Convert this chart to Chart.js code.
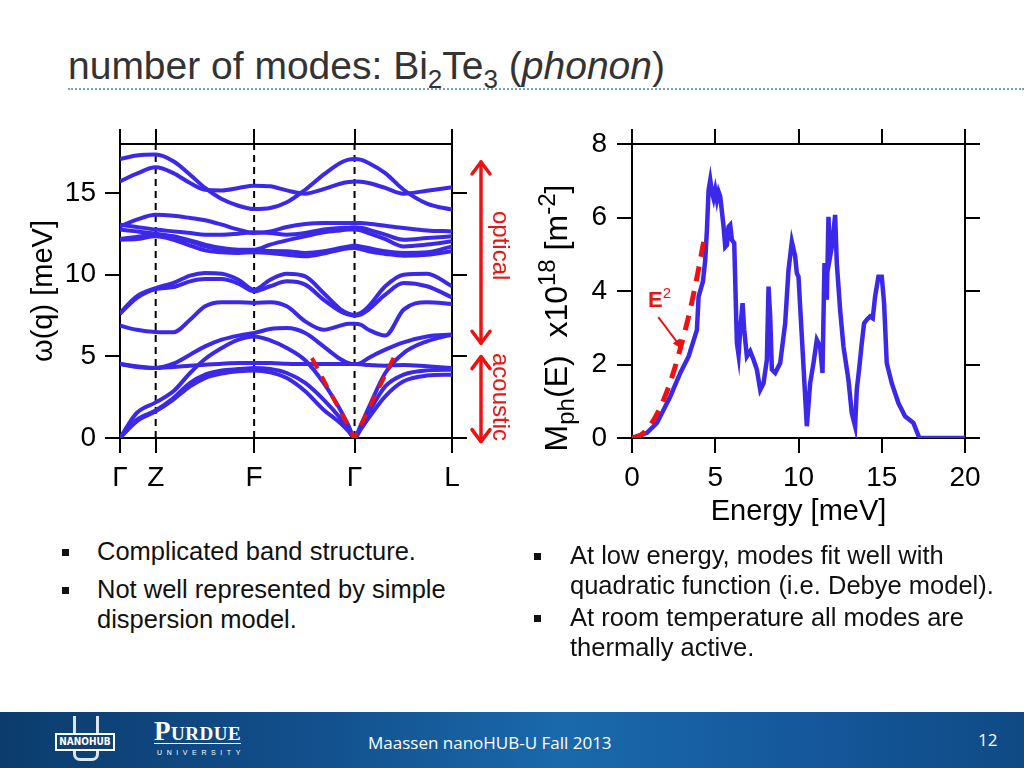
<!DOCTYPE html>
<html>
<head>
<meta charset="utf-8">
<script src="https://cdn.jsdelivr.net/npm/chart.js@4.4.0/dist/chart.umd.min.js"></script>
<style>
body{margin:0;width:1024px;height:768px;overflow:hidden;background:#fff;position:relative;font-family:"Liberation Sans",Arial,sans-serif}
#title{position:absolute;left:68px;top:46px;font-size:39px;line-height:1;color:#333;white-space:nowrap}
#title sub{font-size:26px;line-height:0;vertical-align:-9px}
#rule{position:absolute;left:68px;right:0;top:88px;border-top:2px dotted #6fa4bb}
canvas{position:absolute}
#left{left:0;top:100px}
#right{left:520px;top:100px}
.note{position:absolute;color:#e51616;font-size:24px;line-height:1;writing-mode:vertical-rl;white-space:nowrap}
#mlabel{position:absolute;left:556px;top:318px;transform:translate(-50%,-50%) rotate(-90deg);font-size:32px;white-space:nowrap;line-height:1}
#mlabel sub,#mlabel sup{font-size:24px;line-height:0}
#e2{position:absolute;left:648px;top:289px;color:#e51616;font-size:22px;font-weight:bold;line-height:22px}
#e2 sup{font-size:15px;font-weight:normal;vertical-align:9px;line-height:0}
.bul{position:absolute;font-size:25.5px;line-height:30px;color:#111;white-space:nowrap}
.sq{position:absolute;width:7px;height:7px;background:#111}
#foot{position:absolute;left:0;top:712px;width:1024px;height:56px;background:linear-gradient(90deg,#0b3c6d 0%,#124f8c 30%,#1a69ab 55%,#14579a 80%,#0f4a85 100%)}
#foot .t{position:absolute;color:#fff;font-family:"Open Sans",sans-serif;font-size:17px;white-space:nowrap}
</style>
</head>
<body>
<div id="title">number of modes: Bi<sub>2</sub>Te<sub>3</sub> (<i>phonon</i>)</div>
<div id="rule"></div>

<canvas id="left" width="530" height="420"></canvas>
<canvas id="right" width="504" height="440"></canvas>

<div class="note" style="left:489px;top:211px">optical</div>
<div class="note" style="left:489px;top:353px">acoustic</div>
<div id="mlabel">M<sub>ph</sub>(E)&nbsp;&nbsp;x10<sup>18</sup> [m<sup>-2</sup>]</div>
<div id="e2">E<sup>2</sup></div>

<div class="sq" style="left:62px;top:549px"></div>
<div class="bul" style="left:97px;top:536px">Complicated band structure.</div>
<div class="sq" style="left:62px;top:587px"></div>
<div class="bul" style="left:97px;top:574px">Not well represented by simple<br>dispersion model.</div>
<div class="sq" style="left:534px;top:553px"></div>
<div class="bul" style="left:570px;top:540px">At low energy, modes fit well with<br>quadratic function (i.e. Debye model).</div>
<div class="sq" style="left:534px;top:615px"></div>
<div class="bul" style="left:570px;top:602px">At room temperature all modes are<br>thermally active.</div>

<div id="foot">
  <div style="position:absolute;left:73px;top:4px;width:20px;height:42px;border:3px solid #dce6ef;border-top:none;border-radius:0 0 7px 7px"></div>
  <div style="position:absolute;left:55px;top:21px;width:56px;height:14px;border:2px solid #fff;background:#123f6e;color:#fff;font:bold 10px 'DejaVu Sans Condensed','DejaVu Sans',sans-serif;line-height:14px;text-align:center">NANOHUB</div>
  <div style="position:absolute;left:154px;top:7px;color:#fff;font-family:'Liberation Serif',serif;font-size:27px;font-weight:bold;font-variant:small-caps;letter-spacing:0.5px;border-bottom:1px solid #fff;line-height:24px">Purdue</div>
  <div style="position:absolute;left:157px;top:37px;color:#fff;font-size:7px;letter-spacing:4.6px">UNIVERSITY</div>
  <div class="t" style="left:368px;top:19px">Maassen nanoHUB-U Fall 2013</div>
  <div class="t" style="left:978px;top:16px">12</div>
</div>

<script>
// --- band structure (left panel) ---
const kPos = [0, 0.0503, 0.1075, 0.1608, 0.2111, 0.2563, 0.3065, 0.3568, 0.404, 0.4523, 0.5025,
  0.5578, 0.6131, 0.6633, 0.6884, 0.7065, 0.7246, 0.7487, 0.799, 0.8543, 0.9246, 1];
const kTicks = [0, 0.1075, 0.404, 0.7065, 1];
const kLabels = ['Γ', 'Z', 'F', 'Γ', 'L'];
const omegaTicks = [0, 5, 10, 15];

// acoustic branches
const band1 = [0, 1.02, 1.63, 2.35, 3.16, 3.67, 3.94, 4.08, 4.14, 4.02, 3.67, 2.86, 1.73, 0.92, 0.41, 0, 0.51, 1.22, 2.55, 3.47, 3.82, 3.88];
const band2 = [0, 1.12, 1.69, 2.45, 3.37, 3.88, 4.14, 4.22, 4.29, 4.22, 3.98, 3.37, 2.35, 1.22, 0.51, 0, 0.61, 1.53, 3.16, 3.88, 4.14, 4.18];
const band3 = [0, 1.53, 2.18, 2.86, 3.98, 4.84, 5.51, 6.02, 6.22, 5.98, 5.51, 4.76, 3.37, 1.73, 0.76, 0, 0.76, 1.84, 3.98, 5.2, 5.92, 6.33];
// optical branches
const band4 = [4.53, 4.35, 4.29, 4.55, 5.1, 5.61, 6.02, 6.27, 6.43, 6.67, 6.73, 6.43, 5.61, 4.84, 4.59, 4.53, 4.59, 4.9, 5.41, 5.86, 6.22, 6.33];
const band5 = [4.53, 4.39, 4.29, 4.35, 4.43, 4.49, 4.55, 4.59, 4.59, 4.59, 4.55, 4.53, 4.53, 4.53, 4.53, 4.53, 4.51, 4.47, 4.43, 4.47, 4.39, 4.29];
const band6 = [6.88, 6.63, 6.49, 6.47, 7.24, 8.06, 8.31, 8.31, 8.27, 8.31, 8.06, 7.14, 6.63, 6.88, 7.0, 7.0, 6.94, 6.63, 6.27, 7.86, 8.31, 8.2];
const band7 = [7.61, 8.57, 9.12, 9.24, 9.59, 9.73, 9.73, 9.45, 8.98, 9.29, 9.59, 9.39, 8.47, 7.76, 7.55, 7.49, 7.55, 7.86, 8.78, 9.49, 9.29, 8.61];
const band8 = [7.65, 8.67, 9.18, 9.49, 9.94, 10.1, 10.06, 9.69, 9.08, 9.69, 10.06, 9.9, 8.88, 7.9, 7.61, 7.55, 7.65, 8.06, 9.29, 10.0, 10.06, 9.29];
const band9 = [12.14, 12.18, 12.35, 12.14, 11.78, 11.49, 11.37, 11.33, 11.37, 11.33, 11.22, 11.12, 11.29, 11.53, 11.61, 11.63, 11.57, 11.43, 11.27, 11.16, 11.22, 11.43];
const band10 = [12.18, 12.31, 12.45, 12.31, 12.04, 11.73, 11.53, 11.45, 11.45, 11.45, 11.43, 11.33, 11.43, 11.63, 11.73, 11.78, 11.73, 11.63, 11.43, 11.33, 11.37, 11.73];
const band11 = [12.76, 12.65, 12.51, 12.35, 12.1, 11.84, 11.63, 11.53, 11.53, 11.84, 12.1, 12.35, 12.59, 12.71, 12.76, 12.76, 12.71, 12.55, 12.18, 11.73, 11.84, 12.04];
const band12 = [13.06, 12.92, 12.76, 12.65, 12.55, 12.45, 12.45, 12.51, 12.59, 12.55, 12.45, 12.55, 12.76, 12.86, 12.88, 12.9, 12.88, 12.76, 12.45, 12.14, 12.24, 12.35];
const band13 = [12.96, 13.37, 13.67, 13.61, 13.47, 13.33, 13.06, 12.76, 12.55, 12.65, 12.92, 13.1, 13.16, 13.16, 13.16, 13.16, 13.16, 13.12, 13.0, 12.86, 12.71, 12.65];
const band14 = [15.71, 16.18, 16.57, 16.22, 15.61, 15.2, 15.16, 15.31, 15.45, 15.41, 15.16, 14.96, 15.24, 15.57, 15.67, 15.71, 15.69, 15.61, 15.31, 14.96, 15.14, 15.35];
const band15 = [17.08, 17.29, 17.35, 16.94, 16.12, 15.31, 14.63, 14.22, 14.02, 14.08, 14.43, 15.2, 16.12, 16.84, 17.04, 17.08, 17.04, 16.84, 16.22, 15.2, 14.35, 13.98];
const bands = [band1, band2, band3, band4, band5, band6, band7, band8, band9, band10, band11, band12, band13, band14, band15];

// linear fit drawn on the acoustic branches near Gamma
const linFitK = [0.578, 0.7065, 0.824];
const linFitW = [4.9, 0, 4.9];
// arrows on the right of the panel (meV)
const opticalSpan = [16.9, 5.8];
const acousticSpan = [4.98, -0.22];

// --- number of modes (right panel) ---
const energy = [0, 0.9, 1.5, 2.3, 2.9, 3.4, 3.9, 4.0, 4.26, 4.4, 4.5, 4.6, 4.7, 4.8, 4.9, 5.0, 5.1, 5.2, 5.3, 5.5,
  5.6, 5.7, 5.8, 5.9, 6.0, 6.14, 6.3, 6.4, 6.5, 6.64, 6.74, 6.9, 7.1, 7.3, 7.5, 7.7, 7.9, 8.1, 8.2, 8.3,
  8.4, 8.6, 8.9, 9.2, 9.4, 9.6, 9.8, 9.9, 10.0, 10.2, 10.5, 10.7, 10.9, 11.1, 11.3, 11.44, 11.56, 11.7, 11.8, 11.9,
  12.04, 12.2, 12.3, 12.5, 12.7, 13.0, 13.2, 13.4, 13.5, 13.66, 13.8, 13.94, 14.1, 14.3, 14.46, 14.6, 14.8, 15.0, 15.14, 15.3,
  15.6, 16.0, 16.4, 16.9, 17.26, 20];
const mph = [0, 0.14, 0.41, 1.13, 1.77, 2.22, 2.94, 3.85, 4.26, 4.85, 5.66, 6.75, 7.02, 6.7, 6.52, 6.75, 6.48, 6.7, 6.57, 5.75,
  5.2, 5.25, 5.75, 5.8, 5.39, 5.3, 2.58, 2.26, 2.94, 3.67, 2.94, 2.22, 2.36, 2.13, 1.86, 1.31, 1.49, 2.13, 4.12, 3.31,
  1.86, 1.77, 2.04, 3.12, 4.57, 5.34, 4.94, 4.48, 4.39, 2.76, 0.32, 1.49, 2.04, 2.67, 2.49, 1.77, 4.76, 3.76, 6.02, 4.94,
  5.3, 6.07, 4.76, 3.49, 2.49, 1.58, 0.68, 0.32, 1.31, 1.95, 2.58, 3.12, 3.22, 3.31, 3.26, 3.85, 4.39, 4.39, 3.67, 2.04,
  1.49, 0.95, 0.59, 0.41, 0, 0];
const e2Energy = [0, 0.5, 1.0, 1.5, 2.0, 2.5, 3.0, 3.5, 4.0, 4.4];
const e2Mph = [0, 0.07, 0.29, 0.65, 1.15, 1.8, 2.6, 3.5, 4.6, 5.57];
const energyTicks = [0, 5, 10, 15, 20];
const mphTicks = [0, 2, 4, 6, 8];
const e2Arrow = [[1.58, 3.29], [3.02, 2.42]];

const BLUE = '#3b28e8';
const RED = '#ee1111';
Chart.defaults.font.family = '"Liberation Sans", Arial, sans-serif';
Chart.defaults.color = '#000';

function frameAxis(pos, min, max, ticks, size, extra) {
  const horiz = pos === 'top' || pos === 'bottom';
  return Object.assign({
    type: 'linear', position: pos, min: min, max: max,
    afterBuildTicks: s => { s.ticks = ticks.map(v => ({value: v})); },
    afterFit: s => { if (horiz) s.height = size; else s.width = size; },
    grid: {drawOnChartArea: false, tickLength: 15, color: '#000', lineWidth: 2},
    border: {display: true, color: '#000', width: 2},
    ticks: {display: false}
  }, extra || {});
}

function arrowHead(c, x, y, dir) {
  c.beginPath();
  c.moveTo(x - 9, y + dir * 12);
  c.lineTo(x, y);
  c.lineTo(x + 9, y + dir * 12);
  c.stroke();
}

const bandArrows = {
  id: 'bandArrows',
  afterDraw(chart) {
    const c = chart.ctx, y = chart.scales.y;
    c.save();
    c.strokeStyle = RED;
    c.lineWidth = 3.5;
    c.lineCap = 'round';
    c.lineJoin = 'round';
    [opticalSpan, acousticSpan].forEach(span => {
      const y1 = y.getPixelForValue(span[0]), y2 = y.getPixelForValue(span[1]);
      c.beginPath(); c.moveTo(481, y1); c.lineTo(481, y2); c.stroke();
      arrowHead(c, 481, y1, 1);
      arrowHead(c, 481, y2, -1);
    });
    c.restore();
  }
};

const bandSets = bands.map(b => ({
  data: kPos.map((k, i) => ({x: k, y: b[i]})),
  borderColor: BLUE, borderWidth: 4, pointRadius: 0,
  cubicInterpolationMode: 'monotone', order: 1
}));
const symLines = kTicks.slice(1, 4).map(k => ({
  data: [{x: k, y: 0}, {x: k, y: 18}],
  borderColor: '#000', borderWidth: 2, borderDash: [7, 5], pointRadius: 0, order: 2
}));

new Chart(document.getElementById('left'), {
  type: 'line',
  data: {
    datasets: [{
      data: linFitK.map((k, i) => ({x: k, y: linFitW[i]})),
      borderColor: RED, borderWidth: 4, borderDash: [12, 9], pointRadius: 0, order: 0
    }].concat(bandSets, symLines)
  },
  options: {
    responsive: false, animation: false,
    layout: {padding: 0},
    plugins: {legend: {display: false}, tooltip: {enabled: false}},
    scales: {
      x: frameAxis('bottom', 0, 1, kTicks, 82, {
        ticks: {display: true, font: {size: 28}, padding: 8, maxRotation: 0, callback: (v, i) => kLabels[i]}
      }),
      x2: frameAxis('top', 0, 1, kTicks, 44),
      y: frameAxis('left', 0, 18, omegaTicks, 120, {
        ticks: {display: true, font: {size: 28}, padding: 9},
        title: {display: true, text: 'ω(q) [meV]', font: {size: 29}, padding: {top: 27, bottom: 0}}
      }),
      y2: frameAxis('right', 0, 18, omegaTicks, 78)
    }
  },
  plugins: [bandArrows]
});

const e2Pointer = {
  id: 'e2Pointer',
  afterDraw(chart) {
    const c = chart.ctx, sx = chart.scales.x, sy = chart.scales.y;
    const x1 = sx.getPixelForValue(e2Arrow[0][0]), y1 = sy.getPixelForValue(e2Arrow[0][1]);
    const x2 = sx.getPixelForValue(e2Arrow[1][0]), y2 = sy.getPixelForValue(e2Arrow[1][1]);
    const a = Math.atan2(y2 - y1, x2 - x1);
    c.save();
    c.strokeStyle = RED; c.fillStyle = RED; c.lineWidth = 2;
    c.beginPath(); c.moveTo(x1, y1); c.lineTo(x2 - 6 * Math.cos(a), y2 - 6 * Math.sin(a)); c.stroke();
    c.beginPath();
    c.moveTo(x2, y2);
    c.lineTo(x2 - 11 * Math.cos(a - 0.4), y2 - 11 * Math.sin(a - 0.4));
    c.lineTo(x2 - 11 * Math.cos(a + 0.4), y2 - 11 * Math.sin(a + 0.4));
    c.closePath(); c.fill();
    c.restore();
  }
};

new Chart(document.getElementById('right'), {
  type: 'line',
  data: {
    datasets: [{
      data: e2Energy.map((e, i) => ({x: e, y: e2Mph[i]})),
      borderColor: RED, borderWidth: 5, borderDash: [15, 10], pointRadius: 0,
      cubicInterpolationMode: 'monotone', order: 0
    }, {
      data: energy.map((e, i) => ({x: e, y: mph[i]})),
      borderColor: BLUE, borderWidth: 4.5, pointRadius: 0, tension: 0, order: 1
    }]
  },
  options: {
    responsive: false, animation: false,
    layout: {padding: 0},
    plugins: {legend: {display: false}, tooltip: {enabled: false}},
    scales: {
      x: frameAxis('bottom', 0, 20, energyTicks, 102, {
        ticks: {display: true, font: {size: 28}, padding: 8, maxRotation: 0},
        title: {display: true, text: 'Energy [meV]', font: {size: 29}, padding: {top: 0, bottom: 11}}
      }),
      x2: frameAxis('top', 0, 20, energyTicks, 44),
      y: frameAxis('left', 0, 8, mphTicks, 112, {
        ticks: {display: true, font: {size: 28}, padding: 10}
      }),
      y2: frameAxis('right', 0, 8, mphTicks, 59)
    }
  },
  plugins: [e2Pointer]
});
</script>
</body>
</html>
